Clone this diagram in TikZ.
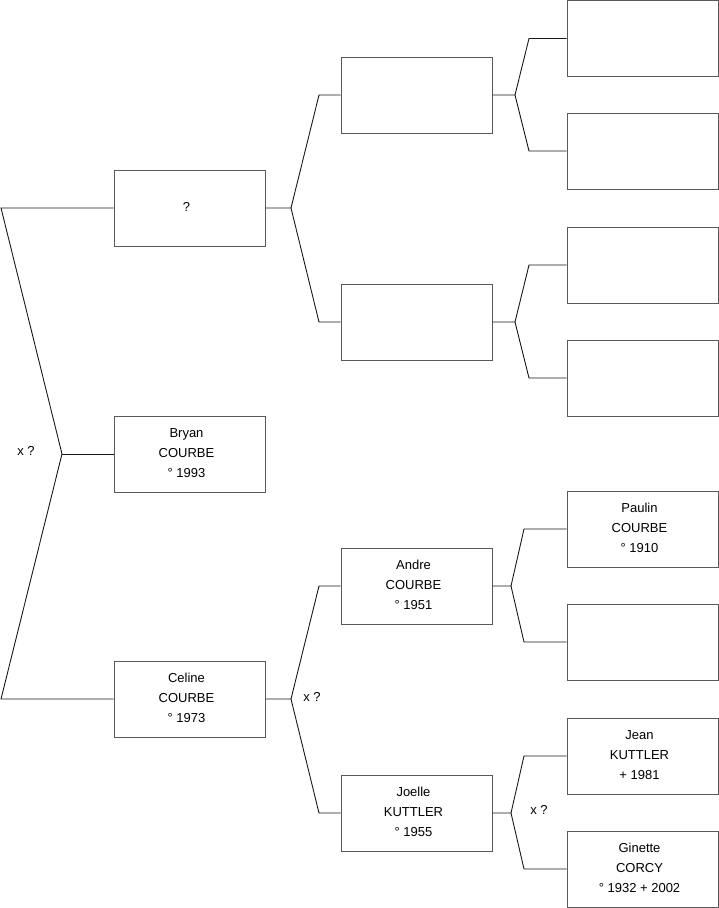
\documentclass[tikz,border=0pt]{standalone}
\usepackage{fontspec}
\setmainfont{Liberation Sans}
\begin{document}
\begin{tikzpicture}[x=1pt,y=-1pt,
  person/.style={draw=black!65, line width=1pt, rectangle, minimum width=151pt, minimum height=76pt, inner sep=0pt},
  txt/.style={align=center, inner sep=0pt, font=\fontsize{13}{20}\selectfont, xshift=-3pt, yshift=1pt},
  link/.style={draw=black!90, line width=0.9pt},
  lbl/.style={font=\fontsize{13}{16}\selectfont, inner sep=0pt}]
\useasboundingbox (0,0) rectangle (719,908);
% column 1
\node[person, label={[txt]center:?}] (p1) at (189.5,208) {};
\node[person, label={[txt]center:Bryan\\COURBE\\° 1993}] (p2) at (189.5,454) {};
\node[person, label={[txt]center:Celine\\COURBE\\° 1973}] (p3) at (189.5,699) {};
% column 2
\node[person] (q1) at (416.5,95) {};
\node[person] (q2) at (416.5,322) {};
\node[person, label={[txt]center:Andre\\COURBE\\° 1951}] (q3) at (416.5,586) {};
\node[person, label={[txt]center:Joelle\\KUTTLER\\° 1955}] (q4) at (416.5,813) {};
% column 3
\node[person] (r1) at (642.5,38.5) {};
\node[person] (r2) at (642.5,151) {};
\node[person] (r3) at (642.5,265) {};
\node[person] (r4) at (642.5,378) {};
\node[person, label={[txt]center:Paulin\\COURBE\\° 1910}] (r5) at (642.5,529) {};
\node[person] (r6) at (642.5,642) {};
\node[person, label={[txt]center:Jean\\KUTTLER\\+ 1981}] (r7) at (642.5,756) {};
\node[person, label={[txt]center:Ginette\\CORCY\\° 1932 + 2002}] (r8) at (642.5,869) {};
% labels
\node[lbl] (x1) at (26,451) {x ?};
\node[lbl] (x2) at (312,697) {x ?};
\node[lbl] (x3) at (539,810) {x ?};
% coordinates
\coordinate (a1) at (1,208);
\coordinate (a2) at (62,454);
\coordinate (a3) at (1,699);
\coordinate (b0) at (291,208);
\coordinate (b1) at (319,95);
\coordinate (b2) at (319,322);
\coordinate (c0) at (291,699);
\coordinate (c1) at (319,586);
\coordinate (c2) at (319,813);
\coordinate (d0) at (515,95);
\coordinate (d1) at (529,38.5);
\coordinate (d2) at (529,151);
\coordinate (e0) at (515,322);
\coordinate (e1) at (529,265);
\coordinate (e2) at (529,378);
\coordinate (f0) at (511,586);
\coordinate (f1) at (524,529);
\coordinate (f2) at (524,642);
\coordinate (g0) at (511,813);
\coordinate (g1) at (524,756);
\coordinate (g2) at (524,869);
% connectors
\draw[link] (p1.west) -- (a1) -- (a2) -- (a3) -- (p3.west);
\draw[link] (a2) -- (p2.west);
\draw[link] (p1.east) -- (b0) -- (b1) -- (q1.west);
\draw[link] (b0) -- (b2) -- (q2.west);
\draw[link] (p3.east) -- (c0) -- (c1) -- (q3.west);
\draw[link] (c0) -- (c2) -- (q4.west);
\draw[link] (q1.east) -- (d0) -- (d1) -- (r1.west);
\draw[link] (d0) -- (d2) -- (r2.west);
\draw[link] (q2.east) -- (e0) -- (e1) -- (r3.west);
\draw[link] (e0) -- (e2) -- (r4.west);
\draw[link] (q3.east) -- (f0) -- (f1) -- (r5.west);
\draw[link] (f0) -- (f2) -- (r6.west);
\draw[link] (q4.east) -- (g0) -- (g1) -- (r7.west);
\draw[link] (g0) -- (g2) -- (r8.west);
\end{tikzpicture}
\end{document}
